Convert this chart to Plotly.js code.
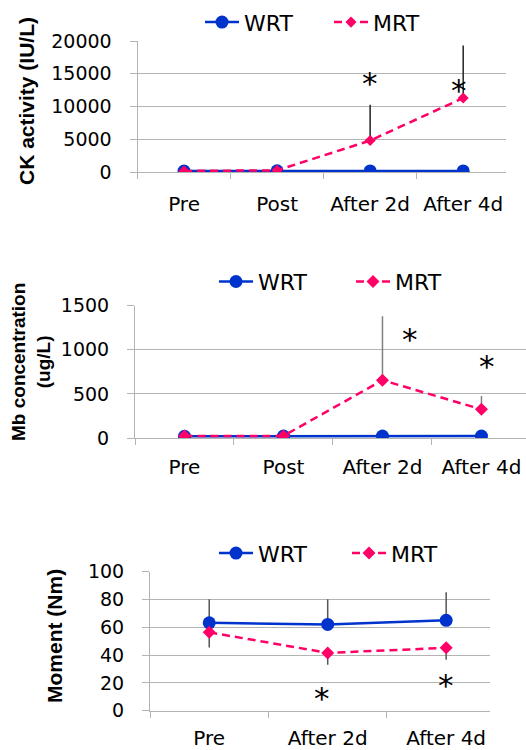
<!DOCTYPE html>
<html><head><meta charset="utf-8">
<script src="https://cdn.plot.ly/plotly-3.0.1.min.js"></script>
<style>html,body{margin:0;padding:0;background:#fff}#chart{width:526px;height:750px}</style>
</head><body><div id="chart"></div>
<script>
// ---- Data ----
const seriesNames = ['WRT', 'MRT'];

const ckCategories = ['Pre', 'Post', 'After 2d', 'After 4d'];
const ckWRT = [150, 180, 170, 160];
const ckMRT = [160, 250, 4800, 11300];
const ckMRTErr = [0, 0, 5450, 8000];
const ckStarX = [2, 2.96];
const ckStarY = [13630, 12520];

const mbCategories = ['Pre', 'Post', 'After 2d', 'After 4d'];
const mbWRT = [20, 22, 22, 22];
const mbMRT = [22, 24, 655, 325];
const mbMRTErr = [0, 0, 725, 150];
const mbStarX = [2.28, 3.06];
const mbStarY = [1117, 818];

const momCategories = ['Pre', 'After 2d', 'After 4d'];
const momWRT = [63.2, 62.1, 65];
const momWRTErr = [17, 18, 20.3];
const momMRT = [56.4, 41.6, 45.2];
const momMRTErr = [11, 8.5, 8.6];
const momStarX = [0.95, 2];
const momStarY = [9, 18.6];

const titles = ['CK activity (IU/L)', 'Mb concentration<br>(ug/L)', 'Moment (Nm)'];

// ---- Styles ----
const BLUE = '#0033CC', PINK = '#FF0066', GRID = '#b3b3b3';
const TICKF = 'DejaVu Sans', TITLEF = 'Liberation Sans, Arial, sans-serif';

function wrt(x, y, xa, ya, lg, err) {
  const t = {x, y, xaxis: xa, yaxis: ya, legend: lg, name: seriesNames[0], type: 'scatter', mode: 'lines+markers',
    line: {color: BLUE, width: 2.5}, marker: {color: BLUE, size: 13, symbol: 'circle'}, hoverinfo: 'skip'};
  if (err) t.error_y = {type: 'data', symmetric: false, array: err, arrayminus: err.map(() => 0), width: 0, thickness: 1.5, color: '#555'};
  return t;
}
function mrt(x, y, xa, ya, lg, errPlus, errMinus, ecol) {
  const t = {x, y, xaxis: xa, yaxis: ya, legend: lg, name: seriesNames[1], type: 'scatter', mode: 'lines+markers',
    line: {color: PINK, width: 2.5, dash: '8px,5px'}, marker: {color: PINK, size: 10, symbol: 'diamond'}, hoverinfo: 'skip'};
  t.error_y = {type: 'data', symmetric: false, array: errPlus || y.map(() => 0), arrayminus: errMinus || y.map(() => 0),
    width: 0, thickness: 1.5, color: ecol};
  return t;
}

const data = [
  wrt(ckCategories, ckWRT, 'x', 'y', 'legend'),
  mrt(ckCategories, ckMRT, 'x', 'y', 'legend', ckMRTErr, null, '#222'),
  wrt(mbCategories, mbWRT, 'x2', 'y2', 'legend2'),
  mrt(mbCategories, mbMRT, 'x2', 'y2', 'legend2', mbMRTErr, null, '#808080'),
  wrt(momCategories, momWRT, 'x3', 'y3', 'legend3', momWRTErr),
  mrt(momCategories, momMRT, 'x3', 'y3', 'legend3', null, momMRTErr, '#555')
];
data[0].marker.size = 13; data[1].marker.size = 8.5;

function yax(domain, range, dtick, anchor) {
  return {domain, range, dtick, tick0: 0, anchor, showgrid: true, gridcolor: GRID, gridwidth: 1,
    showline: true, linecolor: GRID, linewidth: 1, ticks: 'outside', ticklen: 7, tickcolor: GRID,
    tickformat: 'd', exponentformat: 'none', separatethousands: false,
    tickfont: {family: TICKF, size: 19, color: '#000'}, ticklabelstandoff: 14, zeroline: false, fixedrange: true};
}
function xax(domain, range, anchor, standoff) {
  return {domain, range, anchor, type: 'category', tickson: 'boundaries', ticks: 'outside', ticklen: 6,
    tickcolor: GRID, showline: true, linecolor: GRID, linewidth: 1, showgrid: false, zeroline: false,
    tickfont: {family: TICKF, size: 20, color: '#000'}, ticklabelstandoff: standoff, fixedrange: true};
}
const W = 526, H = 750;
const px = v => v / W, py = v => 1 - v / H;

function legendAt(xOrigin, yCenter, ew) {
  return {orientation: 'h', x: px(xOrigin), xanchor: 'left', y: py(yCenter), yanchor: 'middle',
    font: {family: TICKF, size: 22, color: '#000'}, bgcolor: 'rgba(0,0,0,0)', borderwidth: 0,
    itemwidth: 34, entrywidth: ew, entrywidthmode: 'pixels', traceorder: 'normal'};
}

function stars(xs, ys, xr, yr) {
  return xs.map((x, i) => ({x, y: ys[i], xref: xr, yref: yr, text: '*', showarrow: false,
    font: {family: TICKF, size: 31, color: '#000'}, xanchor: 'center', yanchor: 'middle'}));
}
function ytitle(text, xc, yc, size) {
  return {text, x: px(xc), y: py(yc), xref: 'paper', yref: 'paper', textangle: -90, showarrow: false,
    xanchor: 'center', yanchor: 'middle', font: {family: TITLEF, size, color: '#000', weight: 'bold'}};
}

const layout = {
  width: W, height: H, margin: {l: 0, r: 0, t: 0, b: 0}, paper_bgcolor: '#fff', plot_bgcolor: '#fff',
  showlegend: true,
  xaxis: xax([px(137.5), px(506)], [-0.5, 3.46], 'y', 14),
  yaxis: yax([py(172), py(41)], [0, 20000], 5000, 'x'),
  xaxis2: xax([px(135), 1], [-0.5, 3.45], 'y2', 11),
  yaxis2: yax([py(438), py(305.7)], [0, 1500], 500, 'x2'),
  xaxis3: xax([px(150), px(490)], [-0.5, 2.37], 'y3', 9),
  yaxis3: yax([py(710.7), py(571.7)], [0, 100], 20, 'x3'),
  legend: legendAt(200, 22.3, 80),
  legend2: legendAt(214, 281.7, 88),
  legend3: legendAt(214, 553.3, 84),
  annotations: [
    ...stars(ckStarX, ckStarY, 'x', 'y'),
    ...stars(mbStarX, mbStarY, 'x2', 'y2'),
    ...stars(momStarX, momStarY, 'x3', 'y3'),
    ytitle(titles[0], 26, 101, 21),
    ytitle(titles[1], 31, 362, 19),
    ytitle(titles[2], 54, 636, 21)
  ]
};

Plotly.newPlot('chart', data, layout, {displayModeBar: false, staticPlot: true});
</script>
</body></html>
